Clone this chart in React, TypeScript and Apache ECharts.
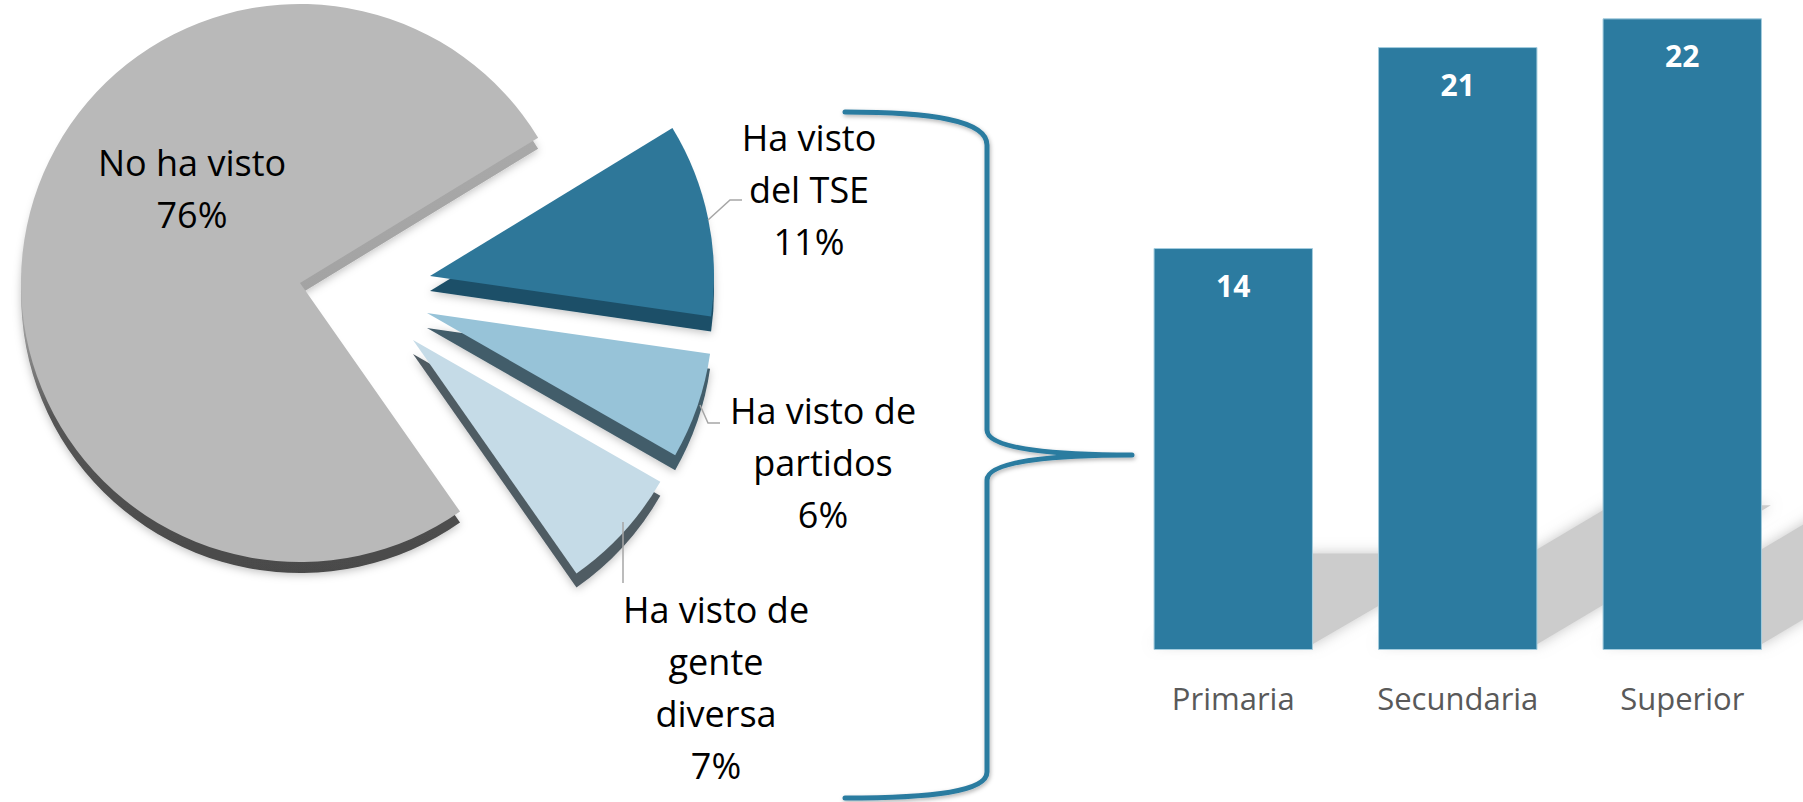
import React, { useEffect, useRef } from "react";
import * as echarts from "echarts";

// ---------- data ----------
const pieNames = ["No ha visto", "Ha visto del TSE", "Ha visto de partidos", "Ha visto de gente diversa"];
const pieLabelText = ["No ha visto", "Ha visto\ndel TSE", "Ha visto de\npartidos", "Ha visto de\ngente\ndiversa"];
const pieValues = [76, 11, 6, 7];

const barCategories = ["Primaria", "Secundaria", "Superior"];
const barValues = [14, 21, 22];

// ---------- layout / style ----------
const FONT = "'Open Sans', 'Noto Sans', sans-serif";
const TOP_COLORS = ["#B9B9B9", "#2E7799", "#97C3D8", "#C5DBE7"];
const SIDE_COLORS = ["gray", "#1D5068", "#435D6A", "#4F5B64"];
const CENTERS = [
  [300, 283],
  [430, 276],
  [427, 313],
  [413, 340],
];
const RADII = [279, 284, 286, 285];
const DEPTH = [11, 15, 15, 14];
const START_ANGLE = 305;
const LABEL_POS = [
  [192, 188],
  [809, 189],
  [823, 462],
  [716, 687],
];
const LEADERS: number[][][] = [
  [],
  [
    [708, 220],
    [730, 200],
    [742, 200],
  ],
  [
    [700, 405],
    [708, 423],
    [720, 423],
  ],
  [
    [623, 522],
    [623, 583],
  ],
];
const BAR_COLOR = "#2C7BA0";
const BAR_FRAC = 0.71;
const BRACE_D =
  "M845,112 C930,112 987,120 987,145 L987,430 C987,450 1060,455 1132,455 M1132,455 C1060,455 987,460 987,480 L987,772 C987,792 930,798 845,798";

let braceRegistered = false;

function sideColor(i: number) {
  if (SIDE_COLORS[i] !== "gray") return SIDE_COLORS[i];
  return new echarts.graphic.LinearGradient(0, 0, 0, 1, [
    { offset: 0, color: "#ADADAD" },
    { offset: 0.55, color: "#A2A2A2" },
    { offset: 0.72, color: "#555555" },
    { offset: 1, color: "#4A4A4A" },
  ]);
}

function pieSeries(k: number, side: boolean): any {
  return {
    type: "pie",
    silent: true,
    z: side ? 1 : 3,
    center: [CENTERS[k][0], CENTERS[k][1] + (side ? DEPTH[k] : 0)],
    radius: [0, RADII[k]],
    startAngle: START_ANGLE,
    clockwise: true,
    avoidLabelOverlap: false,
    data: pieNames.map((n, i) => ({
      name: n,
      value: pieValues[i],
      itemStyle:
        i === k
          ? side
            ? { color: sideColor(i), shadowBlur: 8, shadowColor: "rgba(0,0,0,0.25)", shadowOffsetY: 2 }
            : { color: TOP_COLORS[i] }
          : { color: "rgba(0,0,0,0)" },
      label: { show: !side && i === k },
      labelLine: { show: false },
    })),
    label: {
      position: "inside",
      color: "#000",
      fontFamily: FONT,
      fontSize: 36,
      lineHeight: 52,
      align: "center",
      formatter: (p: any) => pieLabelText[p.dataIndex] + "\n" + p.value + "%",
    },
    labelLayout: (p: any) =>
      p.dataIndex === k
        ? { x: LABEL_POS[k][0], y: LABEL_POS[k][1], align: "center", verticalAlign: "middle" }
        : {},
    itemStyle: { borderWidth: 0 },
  };
}

export default function App() {
  const ref = useRef<HTMLDivElement>(null);
  useEffect(() => {
    if (!ref.current) return;
    if (!braceRegistered) {
      echarts.graphic.registerShape("brace", echarts.graphic.extendPath(BRACE_D, {}));
      braceRegistered = true;
    }
    const chart = echarts.init(ref.current, null, { renderer: "svg" });
    const series: any[] = [];
    for (let k = 0; k < pieValues.length; k++) series.push(pieSeries(k, true));
    for (let k = 0; k < pieValues.length; k++) series.push(pieSeries(k, false));

    series.push({
      type: "custom",
      silent: true,
      clip: false,
      z: 1,
      xAxisIndex: 0,
      yAxisIndex: 0,
      data: barValues.map((v, i) => [i, v]),
      renderItem: (params: any, api: any) => {
        const x = api.value(0);
        const v = api.value(1);
        const base = api.coord([x, 0]);
        const top = api.coord([x, v]);
        const w = api.size([1, 0])[0] * BAR_FRAC;
        const h = base[1] - top[1];
        const dy = h * 0.24;
        const dx = dy / 0.62;
        return {
          type: "polygon",
          shape: {
            points: [
              [base[0] - w / 2, base[1] - 6],
              [base[0] + w / 2, base[1] - 6],
              [base[0] + w / 2 + dx, base[1] - dy],
              [base[0] - w / 2 + dx, base[1] - dy],
            ],
          },
          style: { fill: "#CCCCCC", shadowBlur: 14, shadowColor: "rgba(190,190,190,0.9)" },
        };
      },
    });
    series.push({
      type: "bar",
      z: 2,
      data: barValues,
      barWidth: "71%",
      itemStyle: { color: BAR_COLOR, borderColor: "#A3CCDE", borderWidth: 1 },
      label: {
        show: true,
        position: "insideTop",
        distance: 22,
        color: "#FFFFFF",
        fontWeight: "bold",
        fontSize: 30,
        fontFamily: FONT,
      },
    });

    const graphics: any[] = [
      {
        type: "brace",
        x: 0,
        y: 0,
        shape: {},
        style: {
          fill: "none",
          stroke: BAR_COLOR,
          lineWidth: 5,
          lineCap: "round",
          lineJoin: "round",
          shadowBlur: 4,
          shadowOffsetX: 1,
          shadowOffsetY: 2,
          shadowColor: "rgba(0,0,0,0.3)",
        },
        z: 5,
      },
    ];
    LEADERS.forEach((pts) => {
      if (pts.length)
        graphics.push({
          type: "polyline",
          shape: { points: pts },
          style: { stroke: "#A6A6A6", lineWidth: 1.5, fill: "none" },
          z: 5,
        });
    });

    chart.setOption({
      animation: false,
      backgroundColor: "#FFFFFF",
      textStyle: { fontFamily: FONT },
      grid: { left: 1121, right: 8.5, top: 4, bottom: 152 },
      xAxis: {
        type: "category",
        data: barCategories,
        axisLine: { show: false },
        axisTick: { show: false },
        axisLabel: { color: "#595959", fontSize: 31, fontFamily: FONT, margin: 32 },
      },
      yAxis: { type: "value", min: 0, max: 22.5, show: false, splitLine: { show: false } },
      series,
      graphic: graphics,
    });
    return () => chart.dispose();
  }, []);
  return (
    <div
      ref={ref}
      style={{ position: "absolute", left: 0, top: 0, width: 1803, height: 802, background: "#fff" }}
    />
  );
}
